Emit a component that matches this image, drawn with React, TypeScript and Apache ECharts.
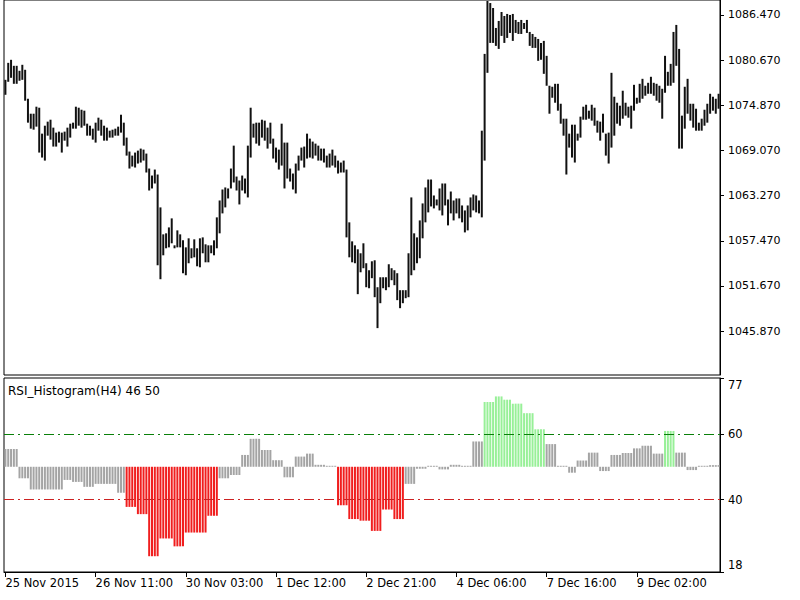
import React, { useEffect, useRef } from 'react';
import * as echarts from 'echarts';

// H1 bars: high and low prices
const highs = [
  1078.14, 1080.32, 1080.71, 1079.94, 1079.94, 1079.30, 1080.07, 1079.43, 1075.71, 1073.79,
  1073.79, 1074.69, 1074.56, 1071.23, 1072.25, 1072.77, 1073.02, 1072.00, 1071.36, 1071.49,
  1071.36, 1071.49, 1072.00, 1072.51, 1072.64, 1074.69, 1074.56, 1074.30, 1074.18, 1072.51,
  1072.25, 1071.87, 1072.64, 1073.28, 1073.02, 1072.25, 1072.00, 1071.61, 1071.74, 1071.87,
  1072.13, 1073.66, 1072.64, 1070.72, 1068.93, 1068.41, 1068.80, 1069.05, 1069.31, 1069.18,
  1068.67, 1066.75, 1065.85, 1066.62, 1065.98, 1061.76, 1058.30, 1058.43, 1059.19, 1060.35,
  1056.89, 1058.81, 1058.30, 1057.53, 1056.63, 1057.79, 1056.51, 1057.66, 1056.51, 1057.79,
  1057.91, 1057.02, 1056.89, 1056.89, 1057.53, 1060.48, 1062.65, 1064.06, 1064.32, 1064.19,
  1066.75, 1069.69, 1065.72, 1065.21, 1065.85, 1065.47, 1069.69, 1074.56, 1072.51, 1072.64,
  1072.64, 1073.02, 1072.90, 1072.00, 1072.64, 1070.59, 1069.44, 1069.18, 1072.51, 1070.08,
  1070.08, 1066.75, 1066.11, 1067.39, 1068.41, 1069.44, 1069.57, 1071.23, 1070.59, 1070.21,
  1069.95, 1069.69, 1069.31, 1069.31, 1068.41, 1068.67, 1069.18, 1068.41, 1067.77, 1067.52,
  1067.77, 1066.62, 1059.84, 1057.40, 1056.89, 1056.38, 1055.87, 1057.15, 1054.59, 1053.69,
  1054.84, 1054.97, 1051.51, 1052.79, 1052.79, 1052.79, 1054.46, 1053.95, 1053.69, 1053.31,
  1051.13, 1051.13, 1051.13, 1055.87, 1063.04, 1058.43, 1057.91, 1060.09, 1062.27, 1064.32,
  1065.34, 1065.34, 1063.29, 1062.78, 1064.19, 1064.83, 1064.83, 1062.78, 1063.80, 1062.65,
  1062.91, 1062.91, 1062.01, 1061.37, 1062.01, 1063.04, 1063.42, 1063.29, 1062.65, 1071.61,
  1081.47, 1088.26, 1088.00, 1087.36, 1084.80, 1085.70, 1086.85, 1086.34, 1086.60, 1086.47,
  1086.60, 1085.83, 1085.57, 1085.83, 1085.44, 1085.83, 1084.29, 1084.03, 1083.65, 1083.39,
  1082.88, 1083.14, 1081.22, 1077.38, 1077.25, 1077.63, 1077.63, 1075.07, 1073.15, 1073.15,
  1071.23, 1072.38, 1072.38, 1071.23, 1073.41, 1074.69, 1074.94, 1074.18, 1074.94, 1074.56,
  1072.90, 1072.77, 1073.79, 1071.23, 1071.36, 1079.04, 1075.97, 1075.20, 1074.82, 1076.74,
  1075.20, 1074.69, 1074.82, 1077.50, 1075.84, 1077.63, 1078.27, 1077.38, 1077.76, 1078.53,
  1077.76, 1077.63, 1077.38, 1076.99, 1081.22, 1079.17, 1080.19, 1084.29, 1085.19, 1082.11,
  1073.54, 1077.25, 1078.27, 1075.07, 1075.07, 1074.43, 1072.64, 1073.15, 1074.30, 1075.07,
  1076.35, 1075.97, 1075.71, 1076.35,
];

const lows = [
  1076.22, 1077.89, 1078.40, 1077.63, 1077.63, 1078.02, 1078.14, 1075.46, 1072.64, 1071.87,
  1071.74, 1072.13, 1068.80, 1068.16, 1067.77, 1070.97, 1070.46, 1069.57, 1069.57, 1070.08,
  1068.80, 1070.33, 1069.57, 1070.72, 1071.87, 1071.87, 1072.25, 1072.00, 1072.25, 1070.97,
  1070.97, 1070.46, 1070.08, 1071.61, 1070.97, 1070.33, 1070.33, 1070.72, 1070.72, 1070.97,
  1070.97, 1071.36, 1069.69, 1068.41, 1066.75, 1067.01, 1066.88, 1067.39, 1067.52, 1067.77,
  1066.24, 1063.93, 1064.19, 1064.83, 1054.33, 1052.54, 1055.61, 1056.51, 1056.63, 1057.15,
  1056.51, 1056.63, 1056.63, 1053.31, 1053.05, 1054.59, 1055.23, 1055.35, 1054.20, 1054.07,
  1055.87, 1054.71, 1054.71, 1055.87, 1055.61, 1056.51, 1058.43, 1060.99, 1061.76, 1062.91,
  1064.19, 1064.96, 1063.93, 1062.14, 1063.93, 1063.55, 1063.04, 1068.16, 1070.72, 1069.95,
  1069.69, 1070.72, 1070.33, 1069.31, 1069.95, 1068.03, 1067.52, 1066.62, 1067.13, 1064.19,
  1065.47, 1065.08, 1064.06, 1063.55, 1066.49, 1067.77, 1066.88, 1068.03, 1068.16, 1068.03,
  1068.41, 1067.77, 1067.77, 1067.52, 1066.88, 1066.88, 1067.13, 1066.88, 1066.11, 1066.24,
  1066.24, 1057.91, 1055.35, 1054.71, 1054.59, 1050.62, 1053.43, 1053.95, 1051.51, 1051.38,
  1052.67, 1050.23, 1046.26, 1049.46, 1051.38, 1051.13, 1051.51, 1052.41, 1051.77, 1049.85,
  1048.82, 1049.46, 1050.10, 1050.23, 1053.05, 1053.69, 1054.59, 1055.23, 1057.79, 1059.84,
  1061.12, 1061.88, 1061.63, 1062.01, 1061.37, 1060.73, 1062.01, 1059.45, 1060.99, 1060.09,
  1060.99, 1060.35, 1059.84, 1058.55, 1058.81, 1060.48, 1061.37, 1061.12, 1060.99, 1060.48,
  1067.77, 1079.04, 1082.88, 1082.88, 1082.50, 1082.11, 1083.78, 1082.88, 1083.52, 1084.16,
  1083.14, 1084.16, 1084.03, 1084.03, 1084.67, 1084.16, 1082.50, 1082.24, 1082.24, 1080.58,
  1080.71, 1078.91, 1077.38, 1073.79, 1075.84, 1075.20, 1074.18, 1072.51, 1070.97, 1065.98,
  1069.44, 1068.16, 1067.52, 1070.33, 1070.72, 1073.02, 1073.02, 1073.15, 1072.90, 1072.25,
  1071.36, 1070.33, 1071.36, 1068.41, 1067.39, 1069.44, 1070.97, 1072.51, 1072.25, 1073.15,
  1073.54, 1073.28, 1071.87, 1074.18, 1075.07, 1075.20, 1075.71, 1076.10, 1076.35, 1076.35,
  1076.10, 1075.46, 1075.20, 1073.15, 1076.48, 1077.38, 1077.38, 1077.76, 1079.94, 1069.31,
  1069.31, 1071.87, 1073.79, 1072.90, 1072.00, 1071.61, 1071.61, 1071.61, 1072.25, 1072.64,
  1073.79, 1074.18, 1073.79, 1074.43,
];

// RSI of the H4 timeframe: one value per H4 bar, and how many H1 bars it covers
const rsiH4 = [
  55.4, 46.5, 43.1, 43.1, 43.1, 46.0, 45.4, 43.9, 44.8, 44.8,
  42.1, 37.8, 35.6, 22.8, 28.2, 25.8, 30.0, 30.0, 35.1, 46.5,
  47.5, 53.6, 58.5, 55.1, 52.0, 46.8, 53.1, 54.0, 50.6, 50.2,
  38.3, 34.1, 33.6, 30.5, 37.0, 34.1, 44.8, 49.4, 50.2, 49.2,
  50.6, 50.1, 57.7, 69.7, 71.4, 70.4, 69.2, 66.3, 61.4, 56.9,
  50.3, 48.2, 51.9, 54.3, 48.7, 53.6, 54.2, 55.6, 56.4, 54.0,
  60.9, 54.3, 49.0, 50.2, 50.5,
];
const rsiSpan = [
  5, 4, 4, 4, 4, 3, 4, 4, 4, 4,
  3, 4, 4, 4, 5, 4, 4, 4, 4, 4,
  4, 3, 4, 4, 4, 4, 4, 3, 4, 4,
  4, 4, 4, 4, 4, 4, 4, 4, 4, 4,
  4, 4, 4, 4, 3, 3, 4, 4, 4, 4,
  4, 3, 4, 4, 4, 4, 4, 3, 4, 4,
  4, 4, 4, 4, 4,
];

const timeLabels = [
  '25 Nov 2015', '26 Nov 11:00', '30 Nov 03:00', '1 Dec 12:00',
  '2 Dec 21:00', '4 Dec 06:00', '7 Dec 16:00', '9 Dec 02:00',
];
const labelEvery = 32;

const priceTicks = [1045.87, 1051.67, 1057.47, 1063.27, 1069.07, 1074.87, 1080.67, 1086.47];
const priceMin = 1040.24;
const priceMax = 1088.39;
const rsiTicks = [77, 60, 40, 18];
const rsiMin = 18;
const rsiMax = 77;
const rsiBase = 50;
const rsiUpper = 60;
const rsiLower = 40;
const indicatorTitle = 'RSI_Histogram(H4) 46 50';

export default function App() {
  const ref = useRef<HTMLDivElement>(null);

  useEffect(() => {
    if (!ref.current) return;
    const chart = echarts.init(ref.current, null, { renderer: 'svg' });
    const n = highs.length;
    const cats = Array.from({ length: n }, (_, i) => String(i));
    const rsi: number[] = [];
    rsiH4.forEach((v, k) => {
      for (let j = 0; j < rsiSpan[k]; j++) rsi.push(v);
    });
    const font = 'DejaVu Sans';
    const show = (i: number) => i % labelEvery === 0;

    chart.setOption({
      animation: false,
      backgroundColor: '#ffffff',
      textStyle: { fontFamily: font },
      title: {
        text: indicatorTitle,
        left: 8,
        top: 385,
        padding: 0,
        textStyle: { fontSize: 12, fontWeight: 'normal', color: '#000', fontFamily: font },
      },
      grid: [
        { left: 4, right: 80, top: -1, height: 376, show: true, borderColor: '#000', borderWidth: 1 },
        { left: 4, right: 80, top: 378, height: 194, show: true, borderColor: '#000', borderWidth: 1 },
      ],
      xAxis: [
        {
          type: 'category', gridIndex: 0, data: cats,
          axisLine: { show: false }, axisTick: { show: false }, axisLabel: { show: false },
          splitLine: { show: false },
        },
        {
          type: 'category', gridIndex: 1, data: cats, position: 'bottom',
          axisLine: { show: true, lineStyle: { color: '#000' } },
          axisTick: {
            show: true, alignWithLabel: true, length: 5,
            interval: (i: number) => show(i), lineStyle: { color: '#000' },
          },
          axisLabel: {
            interval: (i: number) => show(i),
            formatter: (_v: string, i: number) => timeLabels[Math.round(i / labelEvery)] ?? '',
            align: 'left', margin: 5, color: '#000', fontSize: 11.5, fontFamily: font,
          },
          splitLine: { show: false },
        },
      ],
      yAxis: [
        {
          type: 'value', gridIndex: 0, position: 'right', min: priceMin, max: priceMax,
          axisLine: { show: true, lineStyle: { color: '#000' } },
          axisTick: { show: true, length: 4, customValues: priceTicks, lineStyle: { color: '#000' } },
          axisLabel: {
            customValues: priceTicks, formatter: (v: number) => v.toFixed(3),
            color: '#000', fontSize: 11, margin: 8, fontFamily: font,
          },
          splitLine: { show: false },
        },
        {
          type: 'value', gridIndex: 1, position: 'right', min: rsiMin, max: rsiMax,
          axisLine: { show: true, lineStyle: { color: '#000' } },
          axisTick: { show: true, length: 4, customValues: rsiTicks, lineStyle: { color: '#000' } },
          axisLabel: {
            customValues: rsiTicks,
            formatter: (v: number) =>
              v === rsiMax ? `{lo|${v}}` : v === rsiMin ? `{hi|${v}}` : `{n|${v}}`,
            color: '#000', fontSize: 11.5, margin: 8, fontFamily: font,
            rich: {
              lo: { padding: [14, 0, 0, 0], fontSize: 11.5, color: '#000', fontFamily: font },
              hi: { padding: [0, 0, 14, 0], fontSize: 11.5, color: '#000', fontFamily: font },
              n: { fontSize: 11.5, color: '#000', fontFamily: font },
            },
          },
          splitLine: { show: false },
        },
      ],
      series: [
        {
          type: 'custom',
          name: 'Price',
          xAxisIndex: 0, yAxisIndex: 0,
          data: highs.map((h, i) => [i, h, lows[i]]),
          encode: { x: 0, y: [1, 2] },
          clip: true,
          renderItem: (_p: any, api: any) => {
            const i = api.value(0);
            const top = api.coord([i, api.value(1)]);
            const bot = api.coord([i, api.value(2)]);
            return {
              type: 'line',
              shape: { x1: top[0], y1: top[1], x2: bot[0], y2: bot[1] },
              style: { stroke: '#111', lineWidth: 2 },
            };
          },
        },
        {
          type: 'custom',
          name: 'RSI',
          xAxisIndex: 1, yAxisIndex: 1,
          data: rsi.map((v, i) => [i, v]),
          encode: { x: 0, y: 1 },
          renderItem: (_p: any, api: any) => {
            const i = api.value(0);
            const v = api.value(1);
            const b = api.coord([i, rsiBase]);
            const t = api.coord([i, v]);
            let y0 = Math.min(b[1], t[1]);
            let h = Math.abs(b[1] - t[1]);
            if (h < 1) {
              h = 1;
              y0 = v < rsiBase ? b[1] : b[1] - 1;
            }
            const fill = v > rsiUpper ? '#98f098' : v < rsiLower ? '#f01e1e' : '#a4a4a4';
            return {
              type: 'rect',
              shape: { x: b[0] - 1, y: y0, width: 2, height: h },
              style: { fill },
            };
          },
        },
        {
          type: 'line',
          name: 'Levels',
          xAxisIndex: 1, yAxisIndex: 1,
          data: rsi,
          symbol: 'none',
          silent: true,
          lineStyle: { opacity: 0 },
          markLine: {
            silent: true,
            symbol: ['none', 'none'],
            label: { show: false },
            data: [
              { yAxis: rsiUpper, lineStyle: { color: '#0a800a', width: 1.2, type: [10, 4, 2, 4] } },
              { yAxis: rsiLower, lineStyle: { color: '#cc2222', width: 1.2, type: [10, 4, 2, 4] } },
            ],
          },
        },
      ],
    });
    return () => chart.dispose();
  }, []);

  return (
    <div
      ref={ref}
      style={{ position: 'absolute', left: 0, top: 0, width: 800, height: 600, background: '#fff' }}
    />
  );
}
